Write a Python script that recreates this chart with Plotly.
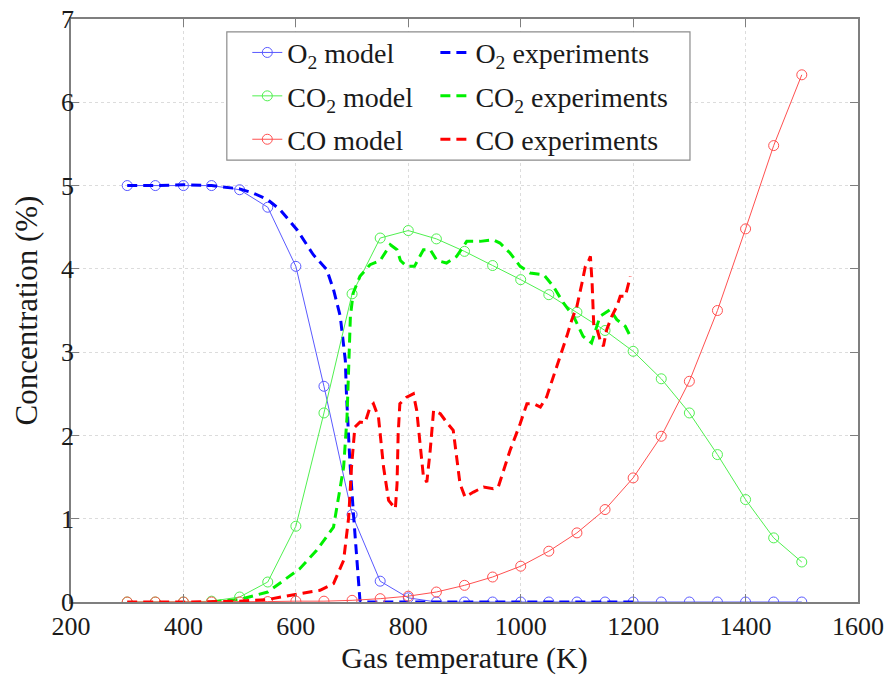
import plotly.graph_objects as go

# Model temperatures (K)
T_model = [300, 350, 400, 450, 500, 550, 600, 650, 700, 750, 800, 850, 900, 950,
           1000, 1050, 1100, 1150, 1200, 1250, 1300, 1350, 1400, 1450, 1500]
o2_model = [5.0, 5.0, 5.0, 5.0, 4.95, 4.74, 4.03, 2.59, 1.05, 0.25, 0.05, 0.0, 0.0, 0.0,
            0.0, 0.0, 0.0, 0.0, 0.0, 0.0, 0.0, 0.0, 0.0, 0.0, 0.0]
co2_model = [0.0, 0.0, 0.0, 0.01, 0.06, 0.24, 0.91, 2.27, 3.70, 4.37, 4.46, 4.36, 4.21, 4.04,
             3.87, 3.69, 3.48, 3.26, 3.01, 2.68, 2.27, 1.77, 1.23, 0.77, 0.48]
co_model = [0.0, 0.0, 0.0, 0.0, 0.0, 0.005, 0.01, 0.01, 0.02, 0.04, 0.07, 0.12, 0.20, 0.30,
            0.43, 0.61, 0.83, 1.11, 1.49, 1.99, 2.65, 3.50, 4.48, 5.48, 6.33]

# Experiments
T_o2_exp = [300, 350, 400, 450, 500, 524, 550, 572, 602, 631, 655, 667, 679, 688, 690,
            696, 702, 708, 714, 720, 800, 900, 1000, 1100, 1200]
o2_exp = [5.0, 5.0, 5.01, 5.0, 4.96, 4.91, 4.83, 4.71, 4.47, 4.17, 3.99, 3.75, 3.43, 2.9, 2.5,
          1.7, 1.1, 0.5, 0.02, 0.0, 0.0, 0.0, 0.0, 0.0, 0.0]

T_co2_exp = [450, 500, 550, 607, 637, 667, 685, 691, 694, 697, 702, 714, 732, 750, 768, 780,
             786, 797, 811, 827, 839, 851, 868, 886, 904, 928, 951, 963, 981, 999, 1017,
             1041, 1058, 1076, 1094, 1111, 1126, 1141, 1159, 1171, 1186, 1195]
co2_exp = [0.0, 0.03, 0.12, 0.40, 0.62, 0.90, 1.62, 2.22, 2.82, 3.43, 3.71, 3.91, 4.05, 4.10,
           4.29, 4.23, 4.10, 4.03, 4.03, 4.23, 4.23, 4.10, 4.07, 4.15, 4.33, 4.33, 4.35, 4.31,
           4.19, 4.03, 3.95, 3.93, 3.79, 3.59, 3.43, 3.19, 3.11, 3.43, 3.51, 3.39, 3.31, 3.19]

T_co_exp = [300, 400, 500, 550, 607, 643, 667, 685, 694, 699, 705, 714, 723, 732, 738, 747,
            756, 765, 777, 780, 782, 785, 797, 809, 815, 821, 827, 833, 839, 845, 857, 868,
            880, 886, 892, 901, 916, 934, 951, 960, 969, 981, 999, 1011, 1023, 1035, 1046,
            1058, 1070, 1082, 1091, 1100, 1109, 1115, 1121, 1124, 1127, 1130, 1136, 1141,
            1147, 1153, 1162, 1171, 1177, 1186, 1192, 1195]
co_exp = [0.0, 0.0, 0.01, 0.03, 0.10, 0.14, 0.22, 0.50, 1.02, 1.62, 2.10, 2.16, 2.15, 2.34,
          2.38, 2.22, 1.62, 1.22, 1.12, 1.42, 2.02, 2.38, 2.46, 2.50, 2.30, 1.94, 1.50, 1.44,
          1.82, 2.30, 2.26, 2.16, 2.06, 1.74, 1.42, 1.26, 1.32, 1.38, 1.36, 1.38, 1.58, 1.82,
          2.14, 2.38, 2.38, 2.34, 2.46, 2.70, 2.94, 3.19, 3.39, 3.55, 3.83, 4.03, 4.10, 4.15,
          3.83, 3.31, 3.27, 3.15, 3.07, 3.27, 3.43, 3.55, 3.67, 3.67, 3.83, 3.91]

x_ticks = [200, 400, 600, 800, 1000, 1200, 1400, 1600]
y_ticks = [0, 1, 2, 3, 4, 5, 6, 7]

FONT = '"Liberation Serif", "Times New Roman", Times, serif'
DASH = "10px,6px"
TXT = "#1a1a1a"

fig = go.Figure()
model_marker = dict(symbol="circle-open", size=10, line=dict(width=1))

fig.add_trace(go.Scatter(x=T_model, y=o2_model, mode="lines+markers", name="O<sub>2</sub> model",
                         legend="legend", legendgroup="a",
                         line=dict(color="rgb(90,90,255)", width=1),
                         marker=dict(color="rgb(90,90,255)", **model_marker)))
fig.add_trace(go.Scatter(x=T_o2_exp, y=o2_exp, mode="lines", name="O<sub>2</sub> experiments",
                         legend="legend2", legendgroup="d",
                         line=dict(color="rgb(0,0,255)", width=3, dash=DASH)))
fig.add_trace(go.Scatter(x=T_model, y=co2_model, mode="lines+markers", name="CO<sub>2</sub> model",
                         legend="legend", legendgroup="b",
                         line=dict(color="rgb(80,240,80)", width=1),
                         marker=dict(color="rgb(80,240,80)", **model_marker)))
fig.add_trace(go.Scatter(x=T_co2_exp, y=co2_exp, mode="lines", name="CO<sub>2</sub> experiments",
                         legend="legend2", legendgroup="e",
                         line=dict(color="rgb(0,240,0)", width=3, dash=DASH)))
fig.add_trace(go.Scatter(x=T_model, y=co_model, mode="lines+markers", name="CO model",
                         legend="legend", legendgroup="c",
                         line=dict(color="rgb(255,80,80)", width=1),
                         marker=dict(color="rgb(255,80,80)", **model_marker)))
fig.add_trace(go.Scatter(x=T_co_exp, y=co_exp, mode="lines", name="CO experiments",
                         legend="legend2", legendgroup="f",
                         line=dict(color="rgb(255,0,0)", width=3, dash=DASH)))

axis_common = dict(showline=True, linecolor="#7f7f7f", linewidth=1.5, mirror="ticks",
                   ticks="inside", ticklen=8, tickcolor="#7f7f7f", automargin=False,
                   showgrid=True, gridcolor="#dcdcdc", griddash="dot", zeroline=False,
                   tickfont=dict(family=FONT, size=26, color=TXT))

fig.update_xaxes(range=[200, 1600], tickvals=x_ticks,
                 title=dict(text="Gas temperature (K)", font=dict(family=FONT, size=30, color=TXT),
                            standoff=4),
                 **axis_common)
fig.update_yaxes(range=[0, 7], tickvals=y_ticks, ticklabelstandoff=-10,
                 title=dict(text="Concentration (%)", font=dict(family=FONT, size=31, color=TXT),
                            standoff=14),
                 **axis_common)

leg_common = dict(orientation="v", yanchor="top", xanchor="left", y=0.985,
                  bgcolor="rgba(255,255,255,0)", borderwidth=0, tracegroupgap=4,
                  font=dict(family=FONT, size=28, color=TXT))

fig.update_layout(
    width=888, height=683,
    margin=dict(l=71, r=30, t=19, b=81),
    plot_bgcolor="white", paper_bgcolor="white",
    font=dict(family=FONT, color=TXT),
    legend=dict(x=0.224, **leg_common),
    legend2=dict(x=0.463, **leg_common),
    shapes=[dict(type="rect", xref="paper", yref="paper", x0=0.198, x1=0.7865,
                 y0=0.758, y1=0.978, layer="above",
                 fillcolor="white", line=dict(color="#8c8c8c", width=1.2))],
)

fig.write_html("out.html")
